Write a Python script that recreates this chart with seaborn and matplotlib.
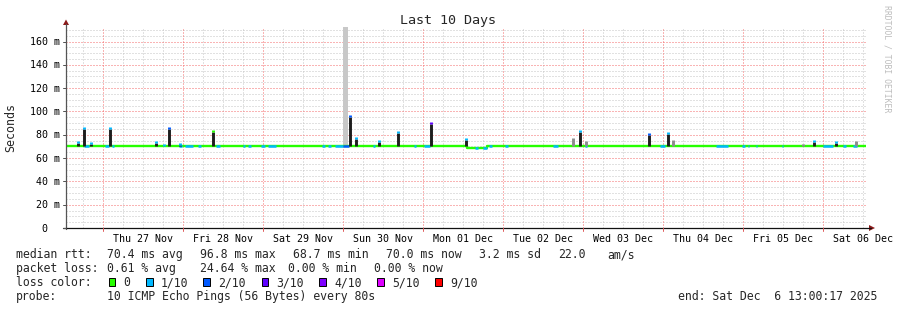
import numpy as np
import pandas as pd
import matplotlib
matplotlib.use("Agg")
import matplotlib.pyplot as plt
import matplotlib.dates as mdates
from matplotlib.lines import Line2D
from matplotlib.patches import Rectangle, Polygon
import seaborn as sns

# ---------------- data ----------------
START = "2025-11-26 13:00:17"
END = "2025-12-06 13:00:17"

title = "Last 10 Days"
ylabel = "Seconds"

day_labels = ["Thu 27 Nov", "Fri 28 Nov", "Sat 29 Nov", "Sun 30 Nov", "Mon 01 Dec",
              "Tue 02 Dec", "Wed 03 Dec", "Thu 04 Dec", "Fri 05 Dec", "Sat 06 Dec"]
day_noons = ["2025-11-27 12:00", "2025-11-28 12:00", "2025-11-29 12:00", "2025-11-30 12:00",
             "2025-12-01 12:00", "2025-12-02 12:00", "2025-12-03 12:00", "2025-12-04 12:00",
             "2025-12-05 12:00", "2025-12-06 12:00"]

ytick_vals = [0, 20, 40, 60, 80, 100, 120, 140, 160]
ytick_labels = ["0", "20 m", "40 m", "60 m", "80 m", "100 m", "120 m", "140 m", "160 m"]

# median rtt baseline (ms), step levels
base_start = ["2025-11-26 13:00", "2025-12-01 13:20", "2025-12-01 19:20"]
base_ms = [70.0, 68.8, 70.0]

# median spikes: time, ms, loss class index (-1 = smoke only)
spike_time = ["2025-11-26 16:41", "2025-11-26 18:19", "2025-11-26 20:25", "2025-11-27 02:17",
              "2025-11-27 16:00", "2025-11-27 18:19", "2025-11-27 19:59", "2025-11-27 23:12",
              "2025-11-28 09:11", "2025-11-30 02:17", "2025-11-30 03:55", "2025-11-30 10:49",
              "2025-11-30 16:41", "2025-12-01 02:25", "2025-12-01 13:00", "2025-12-02 21:01",
              "2025-12-02 23:12", "2025-12-03 00:55", "2025-12-03 19:54", "2025-12-04 01:31",
              "2025-12-04 03:11", "2025-12-05 18:01", "2025-12-05 21:29", "2025-12-06 03:55",
              "2025-12-06 09:55"]
spike_ms = [74.6, 86.4, 73.8, 86.4, 74.6, 72.0, 86.4, 73.0, 83.8, 96.8, 78.3, 75.2, 83.5,
            90.7, 77.0, 77.0, 83.8, 74.6, 81.5, 82.4, 75.2, 72.0, 75.5, 75.0, 75.0]
spike_loss = [1, 1, 1, 1, 1, 1, 2, 1, 0, 2, 1, 1, 1, 3, 1, -1, 1, -1, 2, 1, -1, -1, 1, 1, -1]

# periods with packet loss on the median line
loss_start = ["2025-11-26 18:24", "2025-11-27 00:42", "2025-11-27 02:48", "2025-11-27 22:54",
              "2025-11-28 00:42", "2025-11-28 04:36", "2025-11-28 10:00", "2025-11-28 18:06",
              "2025-11-28 19:36", "2025-11-28 23:30", "2025-11-29 01:36", "2025-11-29 17:48",
              "2025-11-29 19:36", "2025-11-29 21:42", "2025-11-30 00:06", "2025-11-30 09:06",
              "2025-11-30 21:24", "2025-12-01 00:24", "2025-12-01 15:42", "2025-12-01 18:06",
              "2025-12-01 19:54", "2025-12-02 00:42", "2025-12-02 15:06", "2025-12-03 00:42",
              "2025-12-03 23:12", "2025-12-04 16:00", "2025-12-04 23:48", "2025-12-05 01:36",
              "2025-12-05 04:00", "2025-12-05 11:48", "2025-12-06 00:06", "2025-12-06 06:06",
              "2025-12-06 09:06"]
loss_end = ["2025-11-26 19:54", "2025-11-27 01:54", "2025-11-27 03:24", "2025-11-27 23:48",
            "2025-11-28 03:06", "2025-11-28 05:30", "2025-11-28 11:12", "2025-11-28 18:42",
            "2025-11-28 20:30", "2025-11-29 00:42", "2025-11-29 04:00", "2025-11-29 18:42",
            "2025-11-29 20:30", "2025-11-30 00:06", "2025-11-30 01:54", "2025-11-30 09:42",
            "2025-11-30 22:00", "2025-12-01 02:12", "2025-12-01 16:36", "2025-12-01 19:18",
            "2025-12-01 20:48", "2025-12-02 01:36", "2025-12-02 16:36", "2025-12-03 01:18",
            "2025-12-04 00:42", "2025-12-04 19:36", "2025-12-05 00:42", "2025-12-05 01:54",
            "2025-12-05 04:18", "2025-12-05 12:06", "2025-12-06 03:06", "2025-12-06 07:00",
            "2025-12-06 10:18"]
loss_level = [1, 1, 1, 1, 1, 1, 1, 1, 1, 1, 1, 1, 1, 1, 2, 1, 1, 1, 1, 1, 1, 1, 1, 1,
              1, 1, 1, 1, 1, 1, 1, 1, 1]

# unknown-data period
gap_start = "2025-11-30 00:06"
gap_end = "2025-11-30 01:41"

loss_names = ["0", "1/10", "2/10", "3/10", "4/10", "5/10", "9/10"]
loss_colors = ["#26ff00", "#00b8ff", "#0059ff", "#5e00ff", "#7e00ff", "#dd00ff", "#ff0000"]

row1 = ["median rtt:", "70.4 ms avg", "96.8 ms max", "68.7 ms min", "70.0 ms now",
        "3.2 ms sd", "22.0", "am/s"]
row2 = ["packet loss:", "0.61 % avg", "24.64 % max", "0.00 % min", "0.00 % now"]
row3_head = "loss color:"
row4 = ["probe:", "10 ICMP Echo Pings (56 Bytes) every 80s"]
end_text = "end: Sat Dec  6 13:00:17 2025"
watermark = "RRDTOOL / TOBI OETIKER"

# ---------------- layout/styles ----------------
W, H = 897, 310
X0, X1, Y0, Y1 = 66, 866, 228, 27
PX_PER_MS = 1.1656
YMAX = (Y0 - Y1) / PX_PER_MS
MONO = "DejaVu Sans Mono"

sns.set_style("white")
plt.rcParams["font.family"] = [MONO, "DejaVu Sans"]
plt.rcParams["lines.scale_dashes"] = False


def dn(v):
    if isinstance(v, str):
        return mdates.date2num(pd.Timestamp(v).to_pydatetime())
    return mdates.date2num(pd.to_datetime(list(v), format="mixed").to_pydatetime())


def fx(x):
    return x / W


def fy(y):
    return 1 - y / H


fig = plt.figure(figsize=(W / 100, H / 100), dpi=100, facecolor="white")
ax = fig.add_axes([fx(X0), fy(Y0), (X1 - X0) / W, (Y0 - Y1) / H])
ax.set_facecolor("white")
t0, t1 = dn(START), dn(END)
ax.set_xlim(t0, t1)
ax.set_ylim(0, YMAX)
for s in ax.spines.values():
    s.set_visible(False)

DOT = (0, (0.72, 1.44))
MINOR_C = "#c4c4c4"
MAJOR_C = "#f46a6a"
# grid
for v in np.arange(5, YMAX, 5):
    if v % 20 != 0:
        ax.axhline(v, color=MINOR_C, lw=0.72, ls=DOT, snap=True, zorder=0)
for v in ytick_vals[1:]:
    ax.axhline(v, color=MAJOR_C, lw=0.72, ls=DOT, snap=True, zorder=0.5)
minor_t = pd.date_range("2025-11-26 18:00", "2025-12-06 12:00", freq="6h")
for t in minor_t:
    if t.hour != 0:
        ax.axvline(dn(str(t)), color=MINOR_C, lw=0.72, ls=DOT, snap=True, zorder=0)
major_t = pd.date_range("2025-11-27", "2025-12-06", freq="D")
for t in major_t:
    ax.axvline(dn(str(t)), color=MAJOR_C, lw=0.72, ls=DOT, snap=True, zorder=0.5)

# unknown gap
ax.axvspan(dn(gap_start), dn(gap_end), ymin=base_ms[0] / YMAX, ymax=1,
           color="#c8c8c8", lw=0, zorder=1)

# median baseline
bx = list(dn(base_start)) + [t1]
by = base_ms + [base_ms[-1]]
df = pd.DataFrame({"t": bx, "ms": by})
sns.lineplot(data=df, x="t", y="ms", ax=ax, drawstyle="steps-post", color=loss_colors[0],
             lw=1.7, estimator=None, sort=False, zorder=3, legend=False)
ax.set_xlabel("")
ax.set_ylabel("")
ax.set_xticks([])
ax.set_yticks([])
ax.set_xlim(t0, t1)
ax.set_ylim(0, YMAX)

bstarts = np.asarray(dn(base_start))


def base_at(t):
    i = np.searchsorted(bstarts, t, side="right") - 1
    return base_ms[max(i, 0)]


ls_ = dn(loss_start)
le_ = dn(loss_end)
for a, b, lv in zip(ls_, le_, loss_level):
    lvl = base_at(a)
    ax.hlines(lvl, a, b, colors=loss_colors[lv], lw=1.8, zorder=4)

# spikes
st = dn(spike_time)
cap = 1.8
for t, m, lc in zip(st, spike_ms, spike_loss):
    b = base_at(t)
    if lc < 0:
        ax.vlines(t, b, m, colors="#8c8c8c", lw=2.1, zorder=5)
    else:
        ax.vlines(t, b, m - cap, colors="#1e1e1e", lw=2.1, zorder=5)
        ax.vlines(t, m - cap, m, colors=loss_colors[lc], lw=2.1, zorder=6)

# axes lines & arrows (pixel coords)
fig.add_artist(Line2D([fx(X0), fx(X0)], [fy(Y0 + 1), fy(24)], color="#555555", lw=0.9))
fig.add_artist(Line2D([fx(X0 - 3), fx(871)], [fy(Y0), fy(Y0)], color="#111111", lw=0.9))
fig.add_artist(Polygon([[fx(X0 - 3), fy(25)], [fx(X0 + 3), fy(25)], [fx(X0), fy(19.5)]],
                       closed=True, color="#8b1a1a", lw=0))
fig.add_artist(Polygon([[fx(869), fy(Y0 - 3)], [fx(869), fy(Y0 + 3)], [fx(875), fy(Y0)]],
                       closed=True, color="#8b1a1a", lw=0))
for v in ytick_vals:
    y = Y0 - v * PX_PER_MS
    fig.add_artist(Line2D([fx(X0 - 3), fx(X0)], [fy(y), fy(y)], color="#555555", lw=0.72))
for t in major_t:
    xp = X0 + (dn(str(t)) - t0) / (t1 - t0) * (X1 - X0)
    fig.add_artist(Line2D([fx(xp), fx(xp)], [fy(Y0), fy(Y0 + 3)], color="#e06060", lw=0.72))

# tick labels
for v, lab in zip(ytick_vals, ytick_labels):
    y = Y0 - v * PX_PER_MS
    xr = 47 if lab == "0" else 60
    fig.text(fx(xr), fy(y + 3.6), lab, ha="right", va="baseline", fontsize=7.2,
             family=MONO, color="#000000")
for t, lab in zip(dn(day_noons), day_labels):
    xp = X0 + (t - t0) / (t1 - t0) * (X1 - X0)
    fig.text(fx(xp), fy(241.5), lab, ha="center", va="baseline", fontsize=7.2,
             family=MONO, color="#000000")

fig.text(fx(448), fy(24), title, ha="center", va="baseline", fontsize=9.6, family=MONO)
fig.text(fx(11), fy(127), ylabel, ha="center", va="center", rotation=90, fontsize=8.4,
         family=MONO)
fig.text(fx(887), fy(59), watermark, ha="center", va="center", rotation=270, fontsize=5.9,
         family=MONO, color="#bdbdbd")

# legend rows
row1_x = [16, 107.3, 200, 293.3, 386, 479.3, 558.3, 607.3]
row2_x = [16, 107.3, 200, 288, 374]
for s, x in zip(row1, row1_x):
    fig.text(fx(x), fy(258), s, ha="left", va="baseline", fontsize=8.3, family=MONO)
for s, x in zip(row2, row2_x):
    fig.text(fx(x), fy(272), s, ha="left", va="baseline", fontsize=8.3, family=MONO)
fig.text(fx(16), fy(286), row3_head, ha="left", va="baseline", fontsize=8.3, family=MONO)
box_x = [108.7, 146, 203.3, 261.7, 319.3, 377.3, 435]
lab_x = [123.3, 160.7, 218.3, 276.3, 334, 392, 450]
for name, c, bxp, lxp in zip(loss_names, loss_colors, box_x, lab_x):
    fig.add_artist(Rectangle((fx(bxp), fy(286.3)), 6.7 / W, 8 / H, facecolor=c,
                             edgecolor="#000000", lw=0.7))
    fig.text(fx(lxp), fy(286), name, ha="left", va="baseline", fontsize=8.3, family=MONO)
fig.text(fx(16), fy(300), row4[0], ha="left", va="baseline", fontsize=8.3, family=MONO)
fig.text(fx(107.3), fy(300), row4[1], ha="left", va="baseline", fontsize=8.3, family=MONO)
fig.text(fx(678), fy(300), end_text, ha="left", va="baseline", fontsize=8.3, family=MONO)

fig.savefig("out.png", dpi=100, facecolor="white")
